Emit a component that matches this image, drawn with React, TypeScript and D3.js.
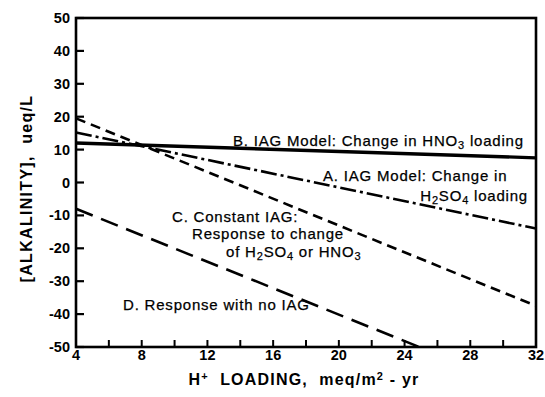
import React from "react";
import * as d3 from "d3";

const xTicks = [4, 8, 12, 16, 20, 24, 28, 32];
const xMinorTicks = [6, 10, 14, 18, 22, 26, 30];
const yTicks = [-50, -40, -30, -20, -10, 0, 10, 20, 30, 40, 50];

// series: [H+ loading, alkalinity]
const lineA = [[4, 15.2], [32, -14]];
const lineB = [[4, 12], [32, 7.5]];
const lineC = [[4, 19.5], [32, -37.5]];
const lineD = [[4, -8], [24.9, -50]];

const W = 545, H = 397;
const L = 76, R = 536, T = 18, B = 347;
const FONT = "'Liberation Sans', Arial, Helvetica, sans-serif";

export default function App() {
  const x = d3.scaleLinear().domain([4, 32]).range([L, R]);
  const y = d3.scaleLinear().domain([-50, 50]).range([B, T]);
  const line = d3.line<number[]>().x(d => x(d[0])).y(d => y(d[1]));

  const sub = (s: string) => <tspan baselineShift="-30%" fontSize="11">{s}</tspan>;
  const sup = (s: string) => <tspan baselineShift="45%" fontSize="11">{s}</tspan>;

  return (
    <svg width={W} height={H} style={{ position: "absolute", left: 0, top: 0, background: "#fff" }} fontFamily={FONT}>
      <rect x={0} y={0} width={W} height={H} fill="#fff" />
      {/* data lines */}
      <path d={line(lineB as any) || ""} stroke="#000" strokeWidth={3.4} fill="none" />
      <path d={line(lineA as any) || ""} stroke="#000" strokeWidth={2.6} fill="none" strokeDasharray="16 4 3 4" />
      <path d={line(lineC as any) || ""} stroke="#000" strokeWidth={2.6} fill="none" strokeDasharray="10 6" />
      <path d={line(lineD as any) || ""} stroke="#000" strokeWidth={2.6} fill="none" strokeDasharray="18 9" />

      {/* frame */}
      <rect x={L} y={T} width={R - L} height={B - T} fill="none" stroke="#000" strokeWidth={2.6} />

      {/* y ticks */}
      {yTicks.map(v => (
        <g key={"y" + v}>
          <line x1={L} x2={L + 8} y1={y(v)} y2={y(v)} stroke="#000" strokeWidth={2.2} />
          <text x={L - 6} y={y(v)} dy="0.35em" textAnchor="end" fontSize={14.5} fontWeight="bold">{v}</text>
        </g>
      ))}
      {/* x ticks */}
      {[...xTicks, ...xMinorTicks].map(v => (
        <line key={"xt" + v} x1={x(v)} x2={x(v)} y1={B} y2={B - 7} stroke="#000" strokeWidth={2} />
      ))}
      {xTicks.map(v => (
        <text key={"xl" + v} x={x(v)} y={B + 13} textAnchor="middle" fontSize={14.5} fontWeight="bold">{v}</text>
      ))}

      {/* axis titles */}
      <text x={304} y={385} textAnchor="middle" fontSize={16} fontWeight="bold" letterSpacing={1.2} xmlSpace="preserve" style={{ whiteSpace: "pre" }}>
        H{sup("+")}{"  LOADING,  meq/m"}{sup("2")}{" - yr"}
      </text>
      <text transform={`translate(32,${(T + B) / 2 + 6}) rotate(-90)`} textAnchor="middle" fontSize={16} fontWeight="bold" letterSpacing={1.3} xmlSpace="preserve" style={{ whiteSpace: "pre" }}>
        {"[ALKALINITY],  ueq/L"}
      </text>

      {/* annotations */}
      <g fontSize={15} letterSpacing={0.8} stroke="#000" strokeWidth={0.25}>
        <text x={233} y={146}>B. IAG Model: Change in HNO{sub("3")} loading</text>
        <text x={323} y={181}>A. IAG Model: Change in</text>
        <text x={528} y={201} textAnchor="end">H{sub("2")}SO{sub("4")} loading</text>
        <text x={172} y={222}>C. Constant IAG:</text>
        <text x={192} y={239}>Response to change</text>
        <text x={226} y={257}>of H{sub("2")}SO{sub("4")} or HNO{sub("3")}</text>
        <text x={123} y={310}>D. Response with no IAG</text>
      </g>
    </svg>
  );
}
